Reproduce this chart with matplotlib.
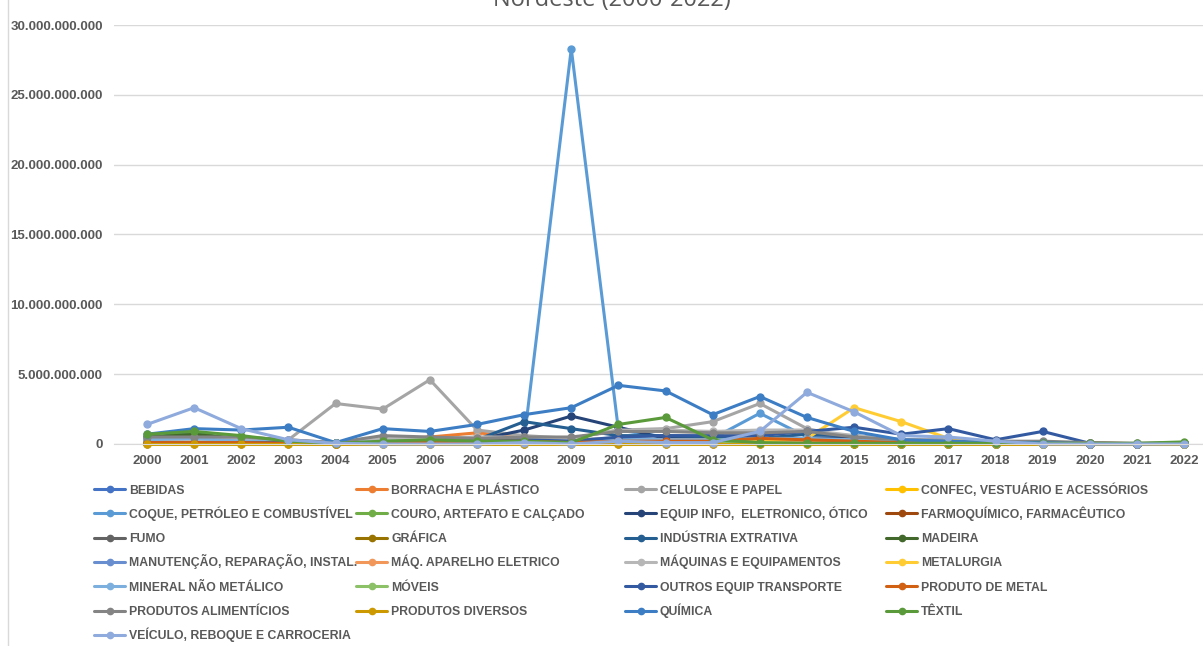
import matplotlib
matplotlib.use("Agg")
import matplotlib.pyplot as plt
from matplotlib.ticker import FuncFormatter, MultipleLocator

plt.rcParams['font.family'] = ['Liberation Sans Narrow', 'Liberation Sans', 'DejaVu Sans']

years = list(range(2000, 2023))

# values in billions (R$ bi)
bebidas = [0.3, 0.4, 0.3, 0.2, 0.1, 0.2, 0.3, 0.2, 0.3, 0.2, 0.3, 0.2, 0.2, 0.2, 0.2, 0.1, 0.1, 0.1, 0.05, 0.05, 0.02, 0.02, 0.05]
borracha = [0.2, 0.2, 0.2, 0.1, 0.05, 0.3, 0.5, 0.8, 0.5, 0.3, 0.3, 0.3, 0.3, 0.3, 0.3, 0.2, 0.1, 0.1, 0.05, 0.05, 0.1, 0.02, 0.05]
celulose = [0.3, 0.3, 0.5, 0.3, 2.9, 2.5, 4.6, 1.0, 0.6, 0.4, 1.0, 1.1, 1.6, 2.9, 1.1, 0.4, 0.2, 0.1, 0.1, 0.1, 0.05, 0.02, 0.05]
confec = [0.1, 0.1, 0.1, 0.05, 0.02, 0.05, 0.05, 0.1, 0.1, 0.05, 0.1, 0.1, 0.1, 0.1, 0.05, 0.05, 0.05, 0.02, 0.02, 0.02, 0.01, 0.01, 0.02]
coque = [0.2, 0.3, 0.1, 0.1, 0.05, 0.1, 0.2, 0.1, 0.3, 28.3, 1.0, 0.5, 0.4, 2.2, 0.5, 0.3, 0.2, 0.1, 0.05, 0.05, 0.02, 0.02, 0.05]
couro = [0.5, 0.6, 0.3, 0.1, 0.05, 0.2, 0.2, 0.2, 0.2, 0.1, 0.2, 0.2, 0.2, 0.1, 0.1, 0.05, 0.05, 0.05, 0.02, 0.02, 0.01, 0.01, 0.02]
equip_info = [0.1, 0.1, 0.1, 0.1, 0.05, 0.3, 0.2, 0.3, 1.0, 2.0, 1.2, 0.4, 0.4, 0.3, 0.4, 0.5, 0.3, 0.3, 0.1, 0.1, 0.02, 0.01, 0.02]
farmo = [0.05, 0.05, 0.05, 0.05, 0.02, 0.05, 0.05, 0.05, 0.05, 0.05, 0.05, 0.05, 0.05, 0.05, 0.05, 0.05, 0.02, 0.02, 0.02, 0.02, 0.01, 0.01, 0.02]
fumo = [0.3, 0.2, 0.2, 0.2, 0.05, 0.3, 0.3, 0.2, 0.3, 0.3, 0.4, 0.3, 0.3, 0.3, 0.3, 0.2, 0.1, 0.1, 0.05, 0.05, 0.02, 0.02, 0.05]
grafica = [0.02, 0.02, 0.02, 0.02, 0.01, 0.02, 0.02, 0.02, 0.02, 0.02, 0.02, 0.02, 0.02, 0.02, 0.02, 0.02, 0.01, 0.01, 0.01, 0.01, 0.01, 0.01, 0.01]
extrativa = [0.4, 0.9, 0.1, 0.1, 0.1, 0.3, 0.2, 0.3, 1.6, 1.1, 0.6, 0.6, 0.5, 0.4, 0.7, 0.6, 0.3, 0.2, 0.1, 0.1, 0.02, 0.02, 0.05]
madeira = [0.5, 0.7, 0.4, 0.2, 0.05, 0.1, 0.1, 0.1, 0.1, 0.05, 0.1, 0.1, 0.1, 0.05, 0.05, 0.02, 0.02, 0.02, 0.02, 0.02, 0.01, 0.01, 0.02]
manutencao = [0.05, 0.05, 0.05, 0.05, 0.02, 0.05, 0.05, 0.05, 0.05, 0.05, 0.05, 0.05, 0.05, 0.05, 0.05, 0.05, 0.02, 0.02, 0.02, 0.02, 0.01, 0.01, 0.02]
maq_aparelho = [0.2, 0.2, 0.2, 0.1, 0.05, 0.2, 0.3, 0.5, 0.4, 0.3, 0.3, 0.3, 0.3, 0.3, 0.2, 0.2, 0.1, 0.1, 0.05, 0.05, 0.05, 0.02, 0.05]
maquinas = [0.4, 0.3, 0.4, 0.3, 0.1, 0.4, 0.4, 0.5, 0.5, 0.4, 1.0, 1.0, 0.9, 1.0, 1.0, 0.6, 0.3, 0.3, 0.1, 0.1, 0.05, 0.02, 0.05]
metalurgia = [0.1, 0.1, 0.1, 0.1, 0.05, 0.1, 0.1, 0.1, 0.1, 0.1, 0.1, 0.1, 0.1, 0.2, 0.4, 2.6, 1.6, 0.4, 0.1, 0.05, 0.02, 0.02, 0.05]
mineral = [0.3, 0.4, 0.2, 0.2, 0.05, 0.2, 0.2, 0.2, 0.3, 0.2, 0.4, 0.3, 0.3, 0.4, 0.4, 0.3, 0.2, 0.1, 0.05, 0.05, 0.02, 0.02, 0.05]
moveis = [0.05, 0.05, 0.05, 0.05, 0.02, 0.05, 0.05, 0.05, 0.05, 0.05, 0.05, 0.05, 0.05, 0.05, 0.05, 0.05, 0.02, 0.02, 0.02, 0.02, 0.01, 0.01, 0.02]
outros_equip = [0.1, 0.1, 0.1, 0.1, 0.05, 0.1, 0.1, 0.2, 0.3, 0.2, 0.5, 0.6, 0.6, 0.6, 0.9, 1.2, 0.7, 1.1, 0.3, 0.9, 0.05, 0.02, 0.05]
produto_metal = [0.1, 0.1, 0.1, 0.05, 0.02, 0.1, 0.1, 0.2, 0.2, 0.1, 0.2, 0.2, 0.2, 0.4, 0.3, 0.2, 0.1, 0.1, 0.05, 0.05, 0.02, 0.02, 0.05]
alimenticios = [0.5, 0.5, 0.5, 0.3, 0.1, 0.6, 0.5, 0.4, 0.5, 0.5, 0.9, 0.9, 0.8, 0.8, 0.9, 0.5, 0.3, 0.2, 0.2, 0.2, 0.1, 0.05, 0.1]
diversos = [0.01, 0.01, 0.01, 0.01, 0.01, 0.01, 0.01, 0.01, 0.01, 0.01, 0.01, 0.01, 0.01, 0.01, 0.01, 0.01, 0.01, 0.01, 0.01, 0.01, 0.01, 0.01, 0.01]
quimica = [0.7, 1.1, 1.0, 1.2, 0.1, 1.1, 0.9, 1.4, 2.1, 2.6, 4.2, 3.8, 2.1, 3.4, 1.9, 0.9, 0.3, 0.2, 0.1, 0.1, 0.02, 0.02, 0.05]
textil = [0.7, 0.9, 0.6, 0.2, 0.05, 0.2, 0.3, 0.2, 0.2, 0.1, 1.4, 1.9, 0.3, 0.1, 0.05, 0.05, 0.05, 0.05, 0.05, 0.05, 0.05, 0.05, 0.15]
veiculo = [1.4, 2.6, 1.1, 0.3, 0.05, 0.0, 0.0, 0.0, 0.1, 0.0, 0.2, 0.1, 0.1, 0.9, 3.7, 2.3, 0.6, 0.5, 0.2, 0.0, 0.0, 0.0, 0.0]

series = [
    ("BEBIDAS", bebidas, "#4472C4"),
    ("BORRACHA E PLÁSTICO", borracha, "#ED7D31"),
    ("CELULOSE E PAPEL", celulose, "#A5A5A5"),
    ("CONFEC, VESTUÁRIO E ACESSÓRIOS", confec, "#FFC000"),
    ("COQUE, PETRÓLEO E COMBUSTÍVEL", coque, "#5B9BD5"),
    ("COURO, ARTEFATO E CALÇADO", couro, "#70AD47"),
    ("EQUIP INFO,  ELETRONICO, ÓTICO", equip_info, "#264478"),
    ("FARMOQUÍMICO, FARMACÊUTICO", farmo, "#9E480E"),
    ("FUMO", fumo, "#636363"),
    ("GRÁFICA", grafica, "#997300"),
    ("INDÚSTRIA EXTRATIVA", extrativa, "#255E91"),
    ("MADEIRA", madeira, "#43682B"),
    ("MANUTENÇÃO, REPARAÇÃO, INSTAL.", manutencao, "#698ED0"),
    ("MÁQ. APARELHO ELETRICO", maq_aparelho, "#F1975A"),
    ("MÁQUINAS E EQUIPAMENTOS", maquinas, "#B7B7B7"),
    ("METALURGIA", metalurgia, "#FFCD33"),
    ("MINERAL NÃO METÁLICO", mineral, "#7CAFDD"),
    ("MÓVEIS", moveis, "#8CC168"),
    ("OUTROS EQUIP TRANSPORTE", outros_equip, "#335AA1"),
    ("PRODUTO DE METAL", produto_metal, "#D26012"),
    ("PRODUTOS ALIMENTÍCIOS", alimenticios, "#848484"),
    ("PRODUTOS DIVERSOS", diversos, "#CC9A00"),
    ("QUÍMICA", quimica, "#3C7DC4"),
    ("TÊXTIL", textil, "#5B9A3B"),
    ("VEÍCULO, REBOQUE E CARROCERIA", veiculo, "#8FAADC"),
]

W, H = 1203, 646
fig = plt.figure(figsize=(W / 100, H / 100), dpi=100)
ax = fig.add_axes([114 / W, (H - 444) / H, (W - 114) / W, (444 - 25) / H])

for name, vals, col in series:
    ax.plot(years, [v * 1e9 for v in vals], color=col, lw=2.2, marker="o",
            markersize=5, label=name, clip_on=False, solid_joinstyle="round")

ax.set_xlim(1999.3, 2022.4)
ax.set_ylim(0, 30e9)
ax.yaxis.set_major_locator(MultipleLocator(5e9))
ax.yaxis.set_major_formatter(FuncFormatter(lambda v, p: "{:,.0f}".format(v).replace(",", ".")))
ax.set_xticks(years)
ax.grid(axis="y", color="#D9D9D9", lw=1)
ax.set_axisbelow(True)
for s in ["top", "right", "left"]:
    ax.spines[s].set_visible(False)
ax.spines["bottom"].set_color("#D9D9D9")
ax.tick_params(length=0, labelsize=9.5, labelcolor="#595959", pad=8)
for lab in ax.get_xticklabels() + ax.get_yticklabels():
    lab.set_fontweight("bold")

# title, cut by the top of the picture as in the original
fig.text(612 / W, 1.0, "Nordeste (2000-2022)", ha="center", va="center",
         fontsize=17, color="#595959", family=["Open Sans", "DejaVu Sans"])

# left border of the chart area
fig.add_artist(plt.Line2D([8 / W, 8 / W], [0, 1], color="#D9D9D9", lw=1))

# legend: 4 columns, filled row by row, fixed row height (Excel style)
col_x = [94, 356, 625, 886]
row_y0, row_h = 489, 24.3
for i, (name, vals, col) in enumerate(series):
    r, c = divmod(i, 4)
    x0 = col_x[c]
    yc = row_y0 + r * row_h
    fig.add_artist(plt.Line2D([x0 / W, (x0 + 31) / W], [(H - yc) / H] * 2,
                              color=col, lw=2.2, solid_capstyle="round"))
    fig.add_artist(plt.Line2D([(x0 + 15.5) / W], [(H - yc) / H], color=col,
                              marker="o", markersize=4.5, lw=0))
    fig.text((x0 + 35) / W, (H - yc - 4.5) / H, name, ha="left", va="baseline",
             fontsize=8.8, fontweight="bold", color="#595959")

fig.savefig("out.png", dpi=100)
